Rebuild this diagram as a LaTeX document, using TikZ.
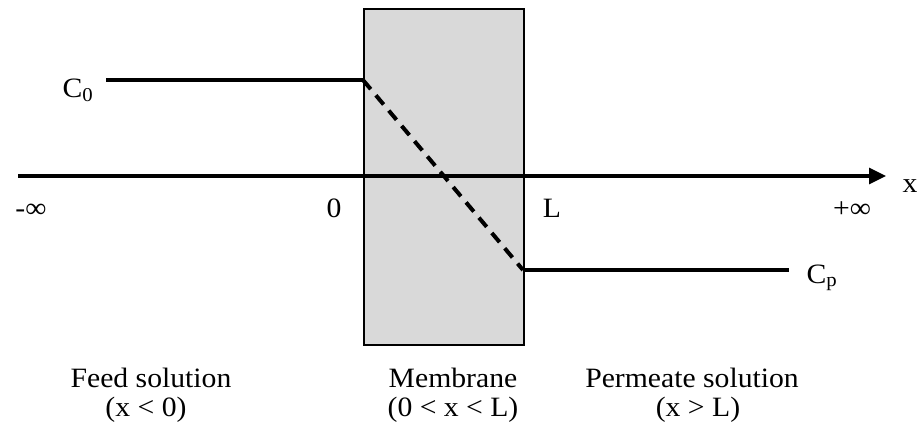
\documentclass[tikz,border=0pt]{standalone}
\usepackage{fontspec}
\setmainfont[FakeStretch=1.06]{Liberation Serif}
\usetikzlibrary{arrows.meta,positioning}
\definecolor{cmem}{RGB}{217,217,217}
\newcommand{\Lfont}{\fontsize{28}{32}\selectfont}

\begin{document}
\begin{tikzpicture}[x=1pt,y=-1pt,
    lbl/.style={font=\Lfont,inner sep=0pt,anchor=base},
    level/.style={line width=3.2pt}]
    \useasboundingbox (0,0) rectangle (919,429);
    % membrane
    \node[draw,line width=1.5pt,fill=cmem,inner sep=0pt,anchor=north west,
      minimum width=160pt,minimum height=336pt] (mem) at (363,8) {};
    % x axis
    \coordinate (xl) at (18,176);
    \coordinate (xr) at (886,176);
    \draw[level,-{Triangle[length=17pt,width=16pt]}] (xl) -- (xr);
    \node[lbl] (xlab) at (910,192) {x};
    \node[lbl] (minf) at (31,217) {-∞};
    \node[lbl] (zero) at (334,217) {0};
    \node[lbl] (ell) at (552,217) {L};
    \node[lbl] (pinf) at (852,217) {+∞};
    % concentration profile
    \node[lbl] (c0) at (78,97) {C\textsubscript{0}};
    \node[lbl] (cp) at (822,283) {C\textsubscript{p}};
    \coordinate (c0s) at (106,80);
    \coordinate (c0e) at (363,80);
    \coordinate (cps) at (523,270);
    \coordinate (cpe) at (789,270);
    \draw[level] (c0s) -- (c0e);
    \draw[line width=4pt,dash pattern=on 12pt off 8pt] (c0e) -- (cps);
    \draw[level] (cps) -- (cpe);
    % regions
    \node[lbl] (feed) at (151,387) {Feed solution};
    \node[lbl] (feedx) at (146,416) {(x < 0)};
    \node[lbl] (memb) at (453,387) {Membrane};
    \node[lbl] (membx) at (453,416) {(0 < x < L)};
    \node[lbl] (perm) at (692,387) {Permeate solution};
    \node[lbl] (permx) at (698,416) {(x > L)};
\end{tikzpicture}
\end{document}
